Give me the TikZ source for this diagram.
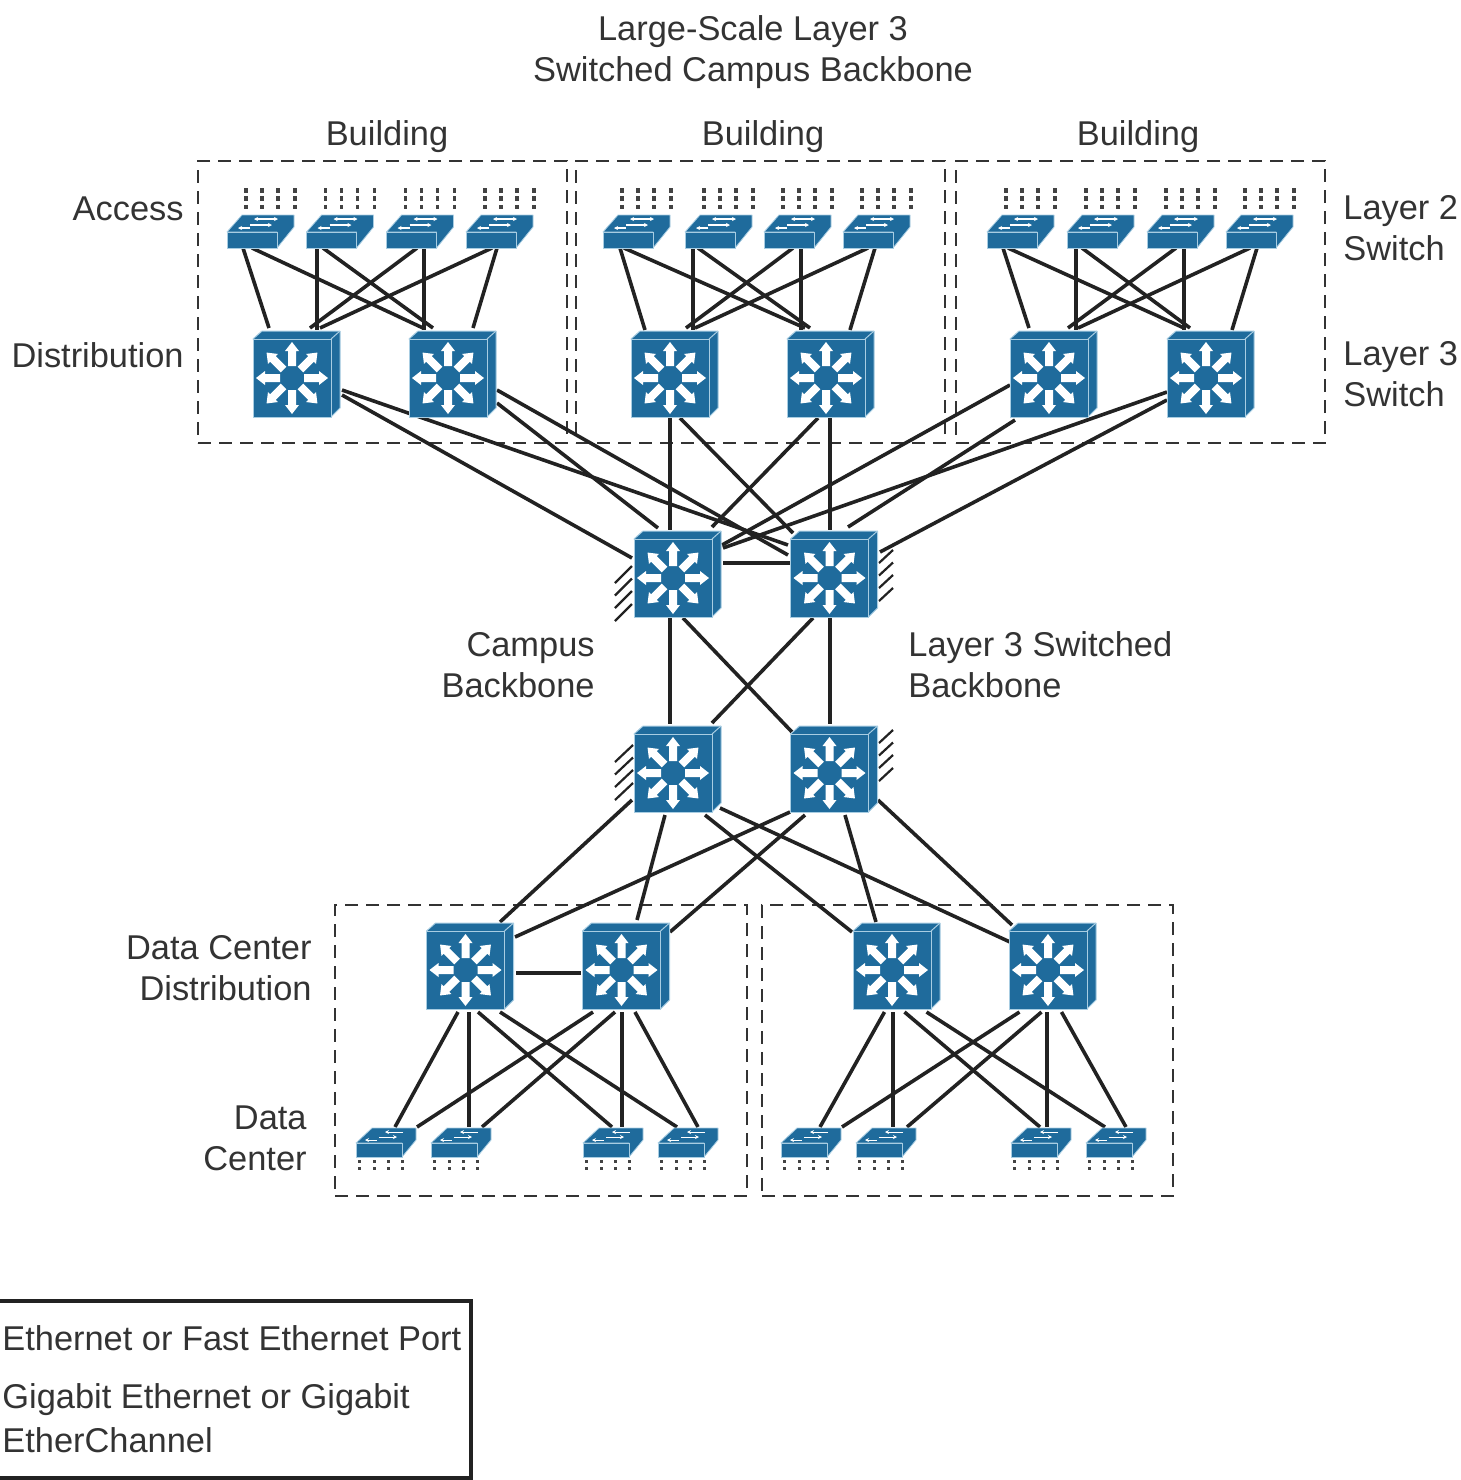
\documentclass[tikz,border=0pt]{standalone}
\usepackage{fontspec}
\setmainfont{Liberation Sans}
\usetikzlibrary{calc,arrows.meta}
\definecolor{swblue}{HTML}{1F6B9C}
\definecolor{swedge}{HTML}{A8CDE2}
\definecolor{ink}{HTML}{222222}
\definecolor{txt}{HTML}{333333}
\tikzset{
  x=0.5pt,y=-0.5pt,
  anchorbox/.style={inner sep=0pt,outer sep=0pt,minimum size=39pt},
  smallbox/.style={inner sep=0pt,outer sep=0pt,minimum width=25pt,minimum height=7.5pt},
  link/.style={draw=ink,line width=1.8pt},
  hatchline/.style={draw=ink,line width=1.1pt},
  dashbox/.style={draw=txt,line width=1.45pt,dash pattern=on 6.5pt off 4pt,inner sep=0pt,outer sep=0pt},
  lbl/.style={text=txt,font=\fontsize{17.2}{20.5}\selectfont,inner sep=0pt},
  lblr/.style={lbl,align=right,anchor=east},
  lbll/.style={lbl,align=left,anchor=west},
  lblc/.style={lbl,align=center,anchor=center},
  port/.style={draw=ink!85,line width=1.6pt,dash pattern=on 2.3pt off 1.9pt},
  portsmall/.style={draw=ink!85,line width=1.5pt,dash pattern=on 1.6pt off 2pt},
  l3/.pic={
    \filldraw[fill=swblue,draw=swedge,line width=.5pt,line join=round]
      (-39,-39)--(-30,-47)--(48,-47)--(48,30)--(39,39)--cycle;
    \filldraw[fill=swblue,draw=swedge,line width=.5pt] (-39,-39) rectangle (39,39);
    \draw[swedge,line width=.5pt] (39,-39)--(48,-47);
    \foreach \a in {0,45,...,315}
      \fill[white,rotate=\a] (12,-4)--(27,-4)--(27,-7)--(36,0)--(27,7)--(27,4)--(12,4)--cycle;
  },
  sw2/.pic={
    \foreach \d in {-6,10,26,43} \draw[port] (\d,-52)--(\d,-30);
    \filldraw[fill=swblue,draw=swedge,line width=.4pt,line join=round]
      (-25,-8)--(-10,-25)--(42,-25)--(42,-13)--(25,8)--(25,-8)--cycle;
    \filldraw[fill=swblue,draw=swedge,line width=.4pt] (-25,-8) rectangle (25,8);
    \draw[white,line width=.55pt,-{Stealth[length=2pt,width=2pt]}] (4,-21)--(26,-21);
    \draw[white,line width=.55pt,-{Stealth[length=2pt,width=2pt]}] (22,-21)--(2,-21);
    \draw[white,line width=.55pt,-{Stealth[length=2pt,width=2pt]}] (-2,-15)--(20,-15);
    \draw[white,line width=.55pt,-{Stealth[length=2pt,width=2pt]}] (-2,-12)--(-14,-12);
  },
  sw2dc/.pic={
    \foreach \d in {-20,-5,9,23} \draw[portsmall] (\d,10)--(\d,20);
    \filldraw[fill=swblue,draw=swedge,line width=.4pt,line join=round]
      (-23,-7)--(-7,-22)--(37,-22)--(37,-10)--(23,7)--(23,-7)--cycle;
    \filldraw[fill=swblue,draw=swedge,line width=.4pt] (-23,-7) rectangle (23,7);
    \draw[white,line width=.5pt,-{Stealth[length=2pt,width=2pt]}] (24,-18)--(6,-18);
    \draw[white,line width=.5pt,-{Stealth[length=2pt,width=2pt]}] (0,-13)--(18,-13);
    \draw[white,line width=.5pt,-{Stealth[length=2pt,width=2pt]}] (-2,-10)--(-14,-10);
  }
}
\newcommand{\lk}[6]{\draw[link] ($(#1)+(#2,#3)$) -- ($(#4)+(#5,#6)$);}
\begin{document}
\begin{tikzpicture}
\useasboundingbox (0,0) rectangle (1461,1480);

% dashed groups
\node[dashbox,minimum width=184.5pt,minimum height=141pt] (g1) at (382.5,302) {};
\node[dashbox,minimum width=184.5pt,minimum height=141pt] (g2) at (760.5,302) {};
\node[dashbox,minimum width=184.5pt,minimum height=141pt] (g3) at (1140.5,302) {};
\node[dashbox,minimum width=206pt,minimum height=145.5pt] (g4) at (541,1050.5) {};
\node[dashbox,minimum width=205.5pt,minimum height=145.5pt] (g5) at (967.5,1050.5) {};

% anchors: access switches
\foreach \n/\x in {a1/252,a2/331.5,a3/411.5,a4/491,b1/628,b2/710,b3/789,b4/868,c1/1012,c2/1092,c3/1172,c4/1251}
  \node[smallbox] (\n) at (\x,240) {};
% distribution
\foreach \n/\x in {d1/292,d2/448,d3/670,d4/826,d5/1049,d6/1206}
  \node[anchorbox] (\n) at (\x,378) {};
% core
\node[anchorbox] (k1) at (673,578) {};
\node[anchorbox] (k2) at (829.5,578) {};
\node[anchorbox] (l1) at (673,773) {};
\node[anchorbox] (l2) at (829.5,773) {};
% DC distribution
\foreach \n/\x in {e1/465.5,e2/621.5,e3/892,e4/1048}
  \node[anchorbox] (\n) at (\x,970) {};
% DC access
\foreach \n/\x in {f1/379,f2/454,f3/606,f4/681,f5/804,f6/879,f7/1034,f8/1109}
  \node[smallbox,minimum width=23pt,minimum height=7pt] (\n) at (\x,1150) {};

% access to distribution
\lk{a1}{-9}{8}{d1}{-23}{-50}
\lk{a1}{0}{8}{d2}{-25}{-50}
\lk{a2}{-14.5}{8}{d1}{25}{-48}
\lk{a2}{-8.5}{8}{d2}{-15}{-50}
\lk{a3}{5.5}{8}{d1}{18}{-50}
\lk{a3}{12.5}{8}{d2}{-24}{-48}
\lk{a4}{1}{8}{d1}{28}{-50}
\lk{a4}{6}{8}{d2}{25}{-50}
\lk{b1}{-8}{8}{d3}{-25}{-48}
\lk{b1}{-4}{8}{d4}{-21}{-50}
\lk{b2}{-17}{8}{d3}{23}{-48}
\lk{b2}{-12}{8}{d4}{-16}{-50}
\lk{b3}{4}{8}{d3}{16}{-50}
\lk{b3}{12}{8}{d4}{-25}{-48}
\lk{b4}{0}{8}{d3}{25}{-50}
\lk{b4}{7}{8}{d4}{24}{-48}
\lk{c1}{-9}{8}{d5}{-20}{-50}
\lk{c1}{-4}{8}{d6}{-22}{-50}
\lk{c2}{-16}{8}{d5}{27}{-48}
\lk{c2}{-10}{8}{d6}{-16}{-50}
\lk{c3}{4}{8}{d5}{19}{-50}
\lk{c3}{12}{8}{d6}{-22}{-48}
\lk{c4}{-1}{8}{d5}{29}{-50}
\lk{c4}{6}{8}{d6}{26}{-48}

% distribution to core
\lk{d1}{50}{17}{k1}{-41}{-20}
\lk{d1}{50}{12}{k2}{-41.5}{-33}
\lk{d2}{49}{12}{k2}{-41.5}{-23}
\lk{d2}{49}{25}{k1}{-15}{-50}
\lk{d3}{0}{40}{k1}{-3}{-48}
\lk{d3}{10}{40}{k2}{-36.5}{-45}
\lk{d4}{4}{40}{k2}{0.5}{-48}
\lk{d4}{-8}{40}{k1}{39}{-51}
\lk{d5}{-39}{7}{k1}{49}{-33}
\lk{d5}{-34}{42}{k2}{18.5}{-51}
\lk{d6}{-39}{14}{k1}{50}{-30}
\lk{d6}{-39}{22}{k2}{50.5}{-26}

% core
\lk{k1}{50}{-15}{k2}{-39.5}{-15}
\lk{k1}{-3}{40}{l1}{-3}{-49}
\lk{k1}{10}{40}{l2}{-37.5}{-41}
\lk{k2}{-16.5}{40}{l1}{39}{-50}
\lk{k2}{0.5}{40}{l2}{0.5}{-49}

% core to data center
\lk{l1}{-41}{27}{e1}{34.5}{-48}
\lk{l1}{-8}{42}{e2}{15.5}{-50}
\lk{l1}{32}{42}{e3}{-40}{-38}
\lk{l1}{47}{35}{e4}{-38}{-28}
\lk{l2}{-39.5}{39}{e1}{49.5}{-33}
\lk{l2}{-24.5}{42}{e2}{48.5}{-38}
\lk{l2}{15.5}{42}{e3}{-16}{-48}
\lk{l2}{48.5}{27}{e4}{-36}{-45}
\lk{e1}{50.5}{3}{e2}{-40.5}{3}

% data center distribution to access
\lk{e1}{-7.5}{42}{f1}{16}{-23}
\lk{e1}{3.5}{42}{f2}{15}{-23}
\lk{e1}{12.5}{42}{f3}{6}{-23}
\lk{e1}{34.5}{42}{f4}{-4}{-23}
\lk{e2}{-28.5}{42}{f1}{38}{-23}
\lk{e2}{-6.5}{42}{f2}{28}{-23}
\lk{e2}{0.5}{42}{f3}{16}{-23}
\lk{e2}{13.5}{42}{f4}{17}{-23}
\lk{e3}{-7.5}{42}{f5}{16}{-23}
\lk{e3}{1}{42}{f6}{14}{-23}
\lk{e3}{12.5}{42}{f7}{6}{-23}
\lk{e3}{34.5}{42}{f8}{-4}{-23}
\lk{e4}{-28.5}{42}{f5}{38}{-23}
\lk{e4}{-6.5}{42}{f6}{28}{-23}
\lk{e4}{-1}{42}{f7}{13}{-23}
\lk{e4}{13.5}{42}{f8}{17}{-23}

% hatching
\foreach \o in {0,12.5,25,38} {
  \draw[hatchline] ($(k1)+(-41,-12+\o)$) -- ($(k1)+(-58,5+\o)$);
  \draw[hatchline] ($(k2)+(49.5,-15+\o)$) -- ($(k2)+(63.5,-28+\o)$);
  \draw[hatchline] ($(l1)+(-40,-28+\o)$) -- ($(l1)+(-58,-11+\o)$);
  \draw[hatchline] ($(l2)+(49.5,-30+\o)$) -- ($(l2)+(63.5,-43+\o)$);
}

% switch icons
\foreach \n in {d1,d2,d3,d4,d5,d6,k1,k2,l1,l2,e1,e2,e3,e4}
  \pic at (\n) {l3};
\foreach \n in {a1,a2,a3,a4,b1,b2,b3,b4,c1,c2,c3,c4}
  \pic at (\n) {sw2};
\foreach \n in {f1,f2,f3,f4,f5,f6,f7,f8}
  \pic at (\n) {sw2dc};

% labels
\node[lblc] (title) at (753,52) {Large-Scale Layer 3\\Switched Campus Backbone};
\node[lblc] (bl1) at (387,137) {Building};
\node[lblc] (bl2) at (763,137) {Building};
\node[lblc] (bl3) at (1138,137) {Building};
\node[lblr] (acc) at (184,209) {Access};
\node[lblr] (dist) at (184,355) {Distribution};
\node[lbll] (l2s) at (1343,228) {Layer 2\\Switch};
\node[lbll] (l3s) at (1343,374) {Layer 3\\Switch};
\node[lblr] (cb) at (595,665) {Campus\\Backbone};
\node[lbll] (l3b) at (908,665) {Layer 3 Switched\\Backbone};
\node[lblr] (dcd) at (312,968) {Data Center\\Distribution};
\node[lblr] (dc) at (307,1138) {Data\\Center};

% legend
\draw[ink,line width=1.7pt] (0,1301) -- (471,1301) -- (471,1478) -- (0,1478);
\node[lbl,anchor=west] (leg1) at (2,1338) {Ethernet or Fast Ethernet Port};
\node[lbl,anchor=west] (leg2) at (2,1400) {Gigabit Ethernet or Gigabit};
\node[lbl,anchor=west] (leg3) at (2,1440) {EtherChannel};
\end{tikzpicture}
\end{document}
